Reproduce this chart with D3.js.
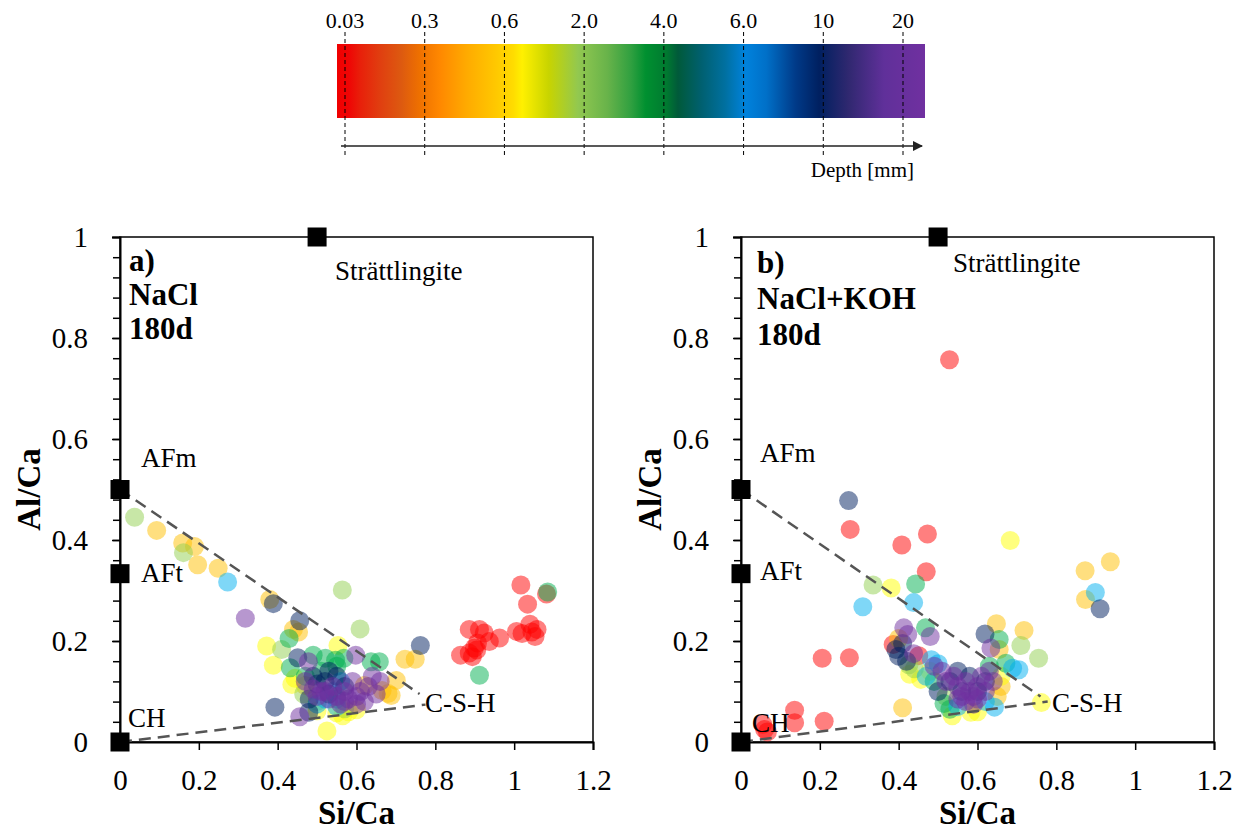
<!DOCTYPE html>
<html><head><meta charset="utf-8">
<script src="https://cdn.jsdelivr.net/npm/d3@7"></script>
<style>body{margin:0;background:#fff} svg{display:block}</style>
</head><body><svg id="chart" width="1233" height="830"></svg>
<script>
// ---------- DATA ----------
const depthLabels = ["0.03","0.3","0.6","2.0","4.0","6.0","10","20"];
const depthColors = ["#FF0000","#FFC000","#FFFF00","#92D050","#00B050","#00B0F0","#002060","#7030A0"];
const xTickValues = [0,0.2,0.4,0.6,0.8,1,1.2];
const yTickValues = [0,0.2,0.4,0.6,0.8,1];
const phaseNames = ["Strättlingite","AFm","AFt","CH"];
const phaseSi = [0.5,0,0,0];
const phaseAl = [1,0.5,1/3,0];

// Panel a) NaCl 180d  [Si/Ca, Al/Ca]
const a_d003 = [[0.864,0.172],[0.886,0.176],[0.894,0.169],[0.899,0.186],[0.907,0.196],[0.937,0.199],[0.886,0.223],[0.912,0.223],[0.924,0.216],[0.963,0.206],[1.006,0.219],[1.04,0.233],[1.058,0.223],[1.053,0.209],[1.017,0.311],[1.034,0.273],[1.082,0.293],[0.905,0.182],[1.02,0.215],[1.045,0.218]];
const a_d03 = [[0.093,0.419],[0.159,0.394],[0.189,0.387],[0.197,0.351],[0.249,0.344],[0.380,0.282],[0.44,0.223],[0.453,0.218],[0.723,0.164],[0.749,0.164],[0.701,0.122],[0.68,0.096],[0.688,0.092],[0.665,0.102],[0.62,0.112],[0.47,0.112]];
const a_d06 = [[0.372,0.19],[0.389,0.152],[0.436,0.114],[0.553,0.191],[0.525,0.022],[0.444,0.126],[0.55,0.058],[0.58,0.06],[0.60,0.064],[0.5,0.062],[0.565,0.052]];
const a_d2 = [[0.037,0.445],[0.161,0.375],[0.41,0.183],[0.564,0.301],[0.609,0.224],[0.466,0.095],[0.5,0.08],[0.57,0.066]];
const a_d4 = [[0.429,0.205],[0.432,0.147],[0.49,0.172],[0.521,0.166],[0.547,0.162],[0.568,0.166],[0.637,0.159],[0.658,0.159],[0.912,0.132],[1.085,0.297],[0.51,0.14],[0.55,0.15],[0.47,0.13],[0.55,0.085]];
const a_d6 = [[0.273,0.317],[0.52,0.085],[0.55,0.07],[0.54,0.1],[0.56,0.12],[0.5,0.075]];
const a_d10 = [[0.389,0.274],[0.456,0.240],[0.451,0.167],[0.393,0.069],[0.479,0.059],[0.762,0.191],[0.49,0.13],[0.52,0.12],[0.53,0.14],[0.5,0.115],[0.55,0.13],[0.57,0.11],[0.48,0.085],[0.53,0.095]];
const a_d20 = [[0.318,0.245],[0.598,0.172],[0.456,0.05],[0.478,0.159],[0.47,0.12],[0.49,0.105],[0.51,0.1],[0.53,0.085],[0.55,0.09],[0.56,0.075],[0.57,0.1],[0.58,0.085],[0.6,0.09],[0.61,0.1],[0.62,0.08],[0.63,0.11],[0.64,0.13],[0.66,0.12],[0.54,0.11],[0.59,0.12],[0.6,0.075],[0.65,0.095],[0.52,0.1],[0.5,0.09],[0.57,0.08]];

// Panel b) NaCl+KOH 180d
const b_d003 = [[0.529,0.757],[0.277,0.421],[0.408,0.39],[0.473,0.412],[0.47,0.337],[0.206,0.166],[0.275,0.167],[0.136,0.063],[0.136,0.038],[0.211,0.041],[0.06,0.025],[0.067,0.02],[0.386,0.193],[0.451,0.171],[0.055,0.035]];
const b_d03 = [[0.873,0.339],[0.937,0.357],[0.874,0.282],[0.718,0.221],[0.648,0.234],[0.41,0.068],[0.655,0.183],[0.40,0.205],[0.66,0.11],[0.65,0.09]];
const b_d06 = [[0.683,0.399],[0.381,0.305],[0.762,0.078],[0.428,0.134],[0.456,0.124],[0.536,0.052],[0.583,0.059],[0.60,0.06],[0.66,0.13],[0.48,0.14]];
const b_d2 = [[0.335,0.311],[0.71,0.191],[0.755,0.166],[0.426,0.153],[0.52,0.09],[0.44,0.145]];
const b_d4 = [[0.443,0.313],[0.655,0.203],[0.468,0.226],[0.672,0.156],[0.515,0.076],[0.53,0.065],[0.49,0.12],[0.63,0.15]];
const b_d6 = [[0.438,0.276],[0.309,0.268],[0.899,0.296],[0.705,0.143],[0.689,0.146],[0.483,0.163],[0.643,0.069],[0.47,0.13],[0.5,0.155],[0.62,0.08],[0.55,0.07]];
const b_d10 = [[0.273,0.478],[0.911,0.264],[0.619,0.214],[0.393,0.183],[0.40,0.17],[0.41,0.195],[0.42,0.16],[0.55,0.14],[0.58,0.13],[0.53,0.12],[0.6,0.1],[0.56,0.1],[0.62,0.12],[0.5,0.1]];
const b_d20 = [[0.413,0.226],[0.423,0.213],[0.48,0.209],[0.438,0.175],[0.634,0.186],[0.49,0.15],[0.51,0.14],[0.52,0.12],[0.54,0.13],[0.55,0.11],[0.56,0.09],[0.57,0.08],[0.58,0.1],[0.59,0.09],[0.6,0.11],[0.61,0.13],[0.62,0.1],[0.63,0.14],[0.57,0.12],[0.59,0.075],[0.6,0.085],[0.55,0.085],[0.64,0.12]];

// C-S-H tie lines end points [Si/Ca, Al/Ca]
const a_afmLineEnd = [0.76,0.095];
const a_chLineEnd = [0.775,0.074];
const b_afmLineEnd = [0.76,0.09];
const b_chLineEnd = [0.778,0.08];

// ---------- DRAW ----------
const svg = d3.select("#chart");
const serif = "'Liberation Serif','Times New Roman',serif";

// Colour bar
const gradStops = [[0,"#f00000"],[0.02,"#ef0505"],[0.04,"#e8200a"],[0.075,"#e04010"],[0.11,"#dd5a10"],[0.14,"#ee7000"],[0.175,"#ff8800"],[0.22,"#ffaa00"],[0.27,"#ffc800"],[0.3,"#ffdc00"],[0.315,"#fff000"],[0.36,"#c8d400"],[0.41,"#92c850"],[0.46,"#68b34a"],[0.5,"#30a040"],[0.525,"#009030"],[0.56,"#007a30"],[0.58,"#005a3a"],[0.62,"#006070"],[0.66,"#0070a0"],[0.695,"#0082dc"],[0.73,"#0070c8"],[0.78,"#003a88"],[0.82,"#002060"],[0.87,"#302870"],[0.93,"#60309a"],[1,"#7030a0"]];
const defs = svg.append("defs");
const lg = defs.append("linearGradient").attr("id","depthGrad").attr("x1","0%").attr("x2","100%");
gradStops.forEach(s => lg.append("stop").attr("offset", s[0]).attr("stop-color", s[1]));
defs.append("marker").attr("id","arrow").attr("viewBox","0 0 10 10").attr("refX",9).attr("refY",5)
  .attr("markerWidth",7).attr("markerHeight",7).attr("orient","auto")
  .append("path").attr("d","M0,0L10,5L0,10z").attr("fill","#222");

const cb = {x0:337, x1:925, y0:44, y1:118};
svg.append("rect").attr("x",cb.x0).attr("y",cb.y0).attr("width",cb.x1-cb.x0).attr("height",cb.y1-cb.y0)
  .attr("fill","url(#depthGrad)");
const depthScale = d3.scalePoint().domain(depthLabels).range([345,903]);
svg.append("g").selectAll("line").data(depthLabels).join("line")
  .attr("x1",d=>depthScale(d)).attr("x2",d=>depthScale(d)).attr("y1",32).attr("y2",157)
  .attr("stroke","#000").attr("stroke-width",1).attr("stroke-dasharray","4,3");
svg.append("g").selectAll("text").data(depthLabels).join("text")
  .attr("x",d=>depthScale(d)).attr("y",28).attr("text-anchor","middle")
  .attr("font-family",serif).attr("font-size",22).text(d=>d);
svg.append("line").attr("x1",341).attr("x2",922).attr("y1",146).attr("y2",146)
  .attr("stroke","#222").attr("stroke-width",1.5).attr("marker-end","url(#arrow)");
svg.append("text").attr("x",914).attr("y",177).attr("text-anchor","end")
  .attr("font-family",serif).attr("font-size",21).text("Depth [mm]");

// Panels
const panels = [
  {x0:120, x1:593, series:[a_d003,a_d03,a_d06,a_d2,a_d4,a_d6,a_d10,a_d20], afmEnd:a_afmLineEnd, chEnd:a_chLineEnd,
   title:["a)","NaCl","180d"], titleX:9, titleY:[271,305,339],
   lbl:{"Strättlingite":[215,280],"AFm":[21,467],"AFt":[21,582],"CH":[8,727],"C-S-H":[305,712]}},
  {x0:741, x1:1214, series:[b_d003,b_d03,b_d06,b_d2,b_d4,b_d6,b_d10,b_d20], afmEnd:b_afmLineEnd, chEnd:b_chLineEnd,
   title:["b)","NaCl+KOH","180d"], titleX:16, titleY:[273,309,345],
   lbl:{"Strättlingite":[212,272],"AFm":[19,462],"AFt":[19,580],"CH":[11,732],"C-S-H":[311,712]}}
];
const yTop = 237, yBot = 742;

panels.forEach(p => {
  const x = d3.scaleLinear().domain([0,1.2]).range([p.x0,p.x1]);
  const y = d3.scaleLinear().domain([0,1]).range([yBot,yTop]);
  const g = svg.append("g");
  const fmt = d => (d===0||d===1) ? String(d) : d3.format(".1f")(d);

  // frame
  g.append("rect").attr("x",p.x0).attr("y",yTop).attr("width",p.x1-p.x0).attr("height",yBot-yTop)
    .attr("fill","none").attr("stroke","#000").attr("stroke-width",1.5);

  // minor y ticks
  const minor = g.append("g").attr("transform",`translate(${p.x0},0)`)
    .call(d3.axisLeft(y).tickValues(d3.range(0,1.0001,0.04)).tickSize(7).tickFormat(""));
  minor.select(".domain").remove();
  minor.selectAll("line").attr("stroke","#000").attr("stroke-width",1.5);

  const ya = g.append("g").attr("transform",`translate(${p.x0},0)`)
    .call(d3.axisLeft(y).tickValues(yTickValues).tickSize(8).tickPadding(24).tickFormat(fmt));
  ya.select(".domain").attr("stroke","#000").attr("stroke-width",2);
  ya.selectAll("line").attr("stroke","#000").attr("stroke-width",1.5);
  ya.selectAll("text").attr("font-family",serif).attr("font-size",29).attr("fill","#000");

  const xa = g.append("g").attr("transform",`translate(0,${yBot})`)
    .call(d3.axisBottom(x).tickValues(xTickValues).tickSize(8).tickPadding(19).tickFormat(fmt));
  xa.select(".domain").attr("stroke","#000").attr("stroke-width",2);
  xa.selectAll("line").attr("stroke","#000").attr("stroke-width",1.5);
  xa.selectAll("text").attr("font-family",serif).attr("font-size",29).attr("fill","#000");

  // axis titles
  g.append("text").attr("x",(p.x0+p.x1)/2).attr("y",824).attr("text-anchor","middle")
    .attr("font-family",serif).attr("font-weight","bold").attr("font-size",33).text("Si/Ca");
  g.append("text").attr("transform",`translate(${p.x0-80},${(yTop+yBot)/2}) rotate(-90)`).attr("text-anchor","middle")
    .attr("font-family",serif).attr("font-weight","bold").attr("font-size",33).text("Al/Ca");

  // points
  p.series.forEach((s,i) => {
    g.append("g").selectAll("circle").data(s).join("circle")
      .attr("cx",d=>x(d[0])).attr("cy",d=>y(d[1])).attr("r",9.5)
      .attr("fill",depthColors[i]).attr("fill-opacity",0.5);
  });

  // dashed tie lines
  const line = d3.line().x(d=>x(d[0])).y(d=>y(d[1]));
  [[[0,0.5],p.afmEnd],[[0,0],p.chEnd]].forEach(seg => {
    g.append("path").attr("d",line(seg)).attr("fill","none").attr("stroke","#555")
      .attr("stroke-width",2.5).attr("stroke-dasharray","12,7");
  });

  // phase squares
  g.append("g").selectAll("rect").data(phaseNames).join("rect")
    .attr("x",(d,i)=>x(phaseSi[i])-9.5).attr("y",(d,i)=>y(phaseAl[i])-9.5)
    .attr("width",19).attr("height",19).attr("fill","#000");

  // phase labels
  Object.entries(p.lbl).forEach(([t,pos]) => {
    g.append("text").attr("x",p.x0+pos[0]).attr("y",pos[1]).attr("font-family",serif)
      .attr("font-size",27).text(t);
  });

  // panel title
  p.title.forEach((t,i) => {
    g.append("text").attr("x",p.x0+p.titleX).attr("y",p.titleY[i]).attr("font-family",serif)
      .attr("font-weight","bold").attr("font-size",31).text(t);
  });
});
</script></body></html>
